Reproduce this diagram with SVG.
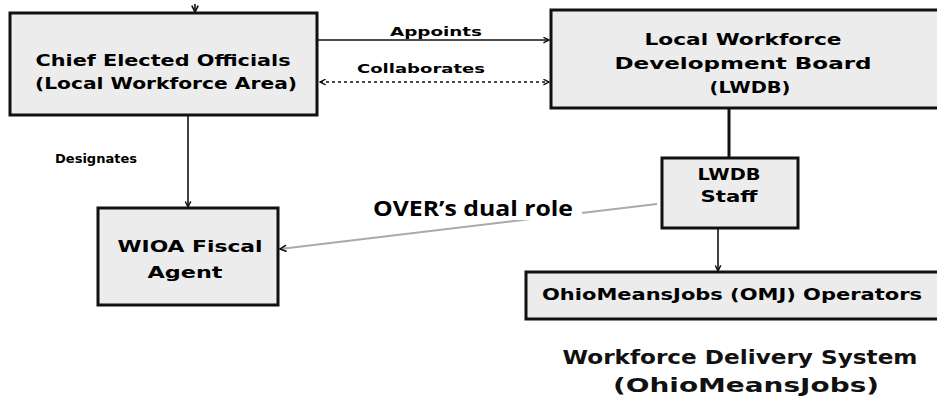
<svg xmlns="http://www.w3.org/2000/svg" width="937" height="408" viewBox="0 0 937 408">
  <defs>
    <style>
      .box { fill: #ececec; stroke: #111; stroke-width: 3; }
      .lbl { font-family: "DejaVu Sans", Verdana, sans-serif; font-weight: bold; font-size: 16px; fill: #000; text-anchor: middle; }
      .edge { font-family: "DejaVu Sans", Verdana, sans-serif; font-weight: bold; font-size: 12px; fill: #000; text-anchor: middle; }
      .conn { stroke: #111; stroke-width: 1.6; fill: none; }
      .foot { font-family: "DejaVu Sans", Verdana, sans-serif; font-weight: bold; font-size: 19px; fill: #111; text-anchor: middle; }
    </style>
    <marker id="arr" viewBox="0 0 10 10" refX="9" refY="5" markerWidth="7" markerHeight="7" orient="auto-start-reverse" markerUnits="userSpaceOnUse">
      <path d="M1,1 L9,5 L1,9" fill="none" stroke="#111" stroke-width="2"/>
    </marker>
    <marker id="arrS" viewBox="0 0 10 10" refX="9" refY="5" markerWidth="8" markerHeight="8" orient="auto-start-reverse" markerUnits="userSpaceOnUse">
      <path d="M1,1 L9,5 L1,9" fill="none" stroke="#111" stroke-width="2"/>
    </marker>
  </defs>
  <rect width="937" height="408" fill="#ffffff"/>

  <g id="connectors">
    <path class="conn" d="M195,4 L195,12" marker-end="url(#arrS)"/>
    <path class="conn" d="M318,40 L549,40" stroke-width="2" marker-end="url(#arr)"/>
    <path class="conn" d="M320,82 L549,82" stroke="#444" stroke-dasharray="3,3" marker-start="url(#arr)" marker-end="url(#arr)"/>
    <path class="conn" d="M188,116 L188,207" marker-end="url(#arr)"/>
    <path d="M729,108 L729,158" stroke="#111" stroke-width="3" fill="none"/>
    <path class="conn" d="M718,228 L718,271" marker-end="url(#arr)"/>
    <path d="M657,204 L280,249" stroke="#aaaaaa" stroke-width="2" fill="none" marker-end="url(#arrS)"/>
    <text class="edge" x="436" y="36" textLength="92" lengthAdjust="spacingAndGlyphs">Appoints</text>
    <text class="edge" x="421" y="73" textLength="128" lengthAdjust="spacingAndGlyphs">Collaborates</text>
    <text class="edge" x="96" y="163" textLength="82" lengthAdjust="spacingAndGlyphs">Designates</text>
    <rect x="368" y="196" width="214" height="24" fill="#ffffff"/>
    <text x="473" y="216" font-family="'Open Sans', 'Liberation Sans', sans-serif" font-weight="bold" font-size="21" text-anchor="middle" textLength="200" lengthAdjust="spacingAndGlyphs" fill="#000">OVER’s dual role</text>
  </g>

  <g id="chief">
    <rect class="box" x="10" y="13" width="307" height="102"/>
    <text class="lbl" x="163" y="66" textLength="255" lengthAdjust="spacingAndGlyphs">Chief Elected Officials</text>
    <text class="lbl" x="166" y="89" textLength="262" lengthAdjust="spacingAndGlyphs">(Local Workforce Area)</text>
  </g>

  <g id="lwdb">
    <rect class="box" x="551" y="10" width="392" height="98"/>
    <text class="lbl" x="743" y="45" textLength="197" lengthAdjust="spacingAndGlyphs">Local Workforce</text>
    <text class="lbl" x="743" y="69" textLength="257" lengthAdjust="spacingAndGlyphs">Development Board</text>
    <text class="lbl" x="750" y="93" textLength="81" lengthAdjust="spacingAndGlyphs">(LWDB)</text>
  </g>

  <g id="wioa">
    <rect class="box" x="98" y="208" width="180" height="97"/>
    <text class="lbl" x="190" y="252" textLength="145" lengthAdjust="spacingAndGlyphs">WIOA Fiscal</text>
    <text class="lbl" x="185" y="278" textLength="75" lengthAdjust="spacingAndGlyphs">Agent</text>
  </g>

  <g id="staff">
    <rect class="box" x="662" y="158" width="136" height="70"/>
    <text class="lbl" x="729" y="180" textLength="63" lengthAdjust="spacingAndGlyphs">LWDB</text>
    <text class="lbl" x="729" y="202" textLength="57" lengthAdjust="spacingAndGlyphs">Staff</text>
  </g>

  <g id="omj">
    <rect class="box" x="526" y="272" width="417" height="47"/>
    <text class="lbl" x="732" y="300" textLength="380" lengthAdjust="spacingAndGlyphs">OhioMeansJobs (OMJ) Operators</text>
  </g>

  <g id="footer">
    <text class="foot" x="740" y="364" textLength="355" lengthAdjust="spacingAndGlyphs">Workforce Delivery System</text>
    <text class="foot" x="746" y="392" textLength="266" lengthAdjust="spacingAndGlyphs">(OhioMeansJobs)</text>
  </g>
</svg>
